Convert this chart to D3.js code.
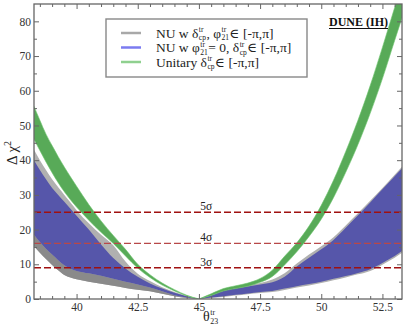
<!DOCTYPE html>
<html>
<head>
<meta charset="utf-8">
<script src="https://cdn.jsdelivr.net/npm/d3@7"></script>
<style>
  body { margin: 0; background: #fff; }
  svg, svg text { font-family: "Liberation Serif", "Times New Roman", Times, "DejaVu Serif", serif; }
</style>
</head>
<body>
<div id="chart"></div>
<script>
//~~~~~~~~~~~~~~~~~~~~~~~~~~~~~~~~~~~~
// Data
//~~~~~~~~~~~~~~~~~~~~~~~~~~~~~~~~~~~~
const thetaGrid = [38.26, 38.5, 38.75, 39, 39.25, 39.5, 39.75, 40, 40.5, 41, 41.5, 42, 42.5, 43, 43.5, 44, 44.5,
    45, 45.5, 46, 46.5, 47, 47.5, 48, 48.5, 49, 49.5, 50, 50.5, 51, 51.5, 52, 52.5, 53, 53.3];

// NU w delta, phi free
const grayLow  = [15.2, 13.3, 11.5, 9.8, 8.3, 6.9, 6.2, 5.7, 5.0, 4.4, 3.8, 3.2, 2.7, 2.2, 1.5, 0.8, 0.3,
    0, 0.3, 0.6, 1.0, 1.4, 1.7, 2.0, 2.6, 3.3, 3.9, 4.6, 5.4, 6.2, 7.1, 8.1, 9.9, 11.9, 13.3];
const grayHigh = [43, 40, 37.2, 34.5, 32.2, 30.0, 27.8, 25.6, 21.8, 18.5, 15.5, 10.8, 7.3, 5.2, 3.4, 2.0, 0.9,
    0, 1.1, 2.5, 3.2, 3.9, 4.6, 5.6, 7.4, 10.2, 12.8, 15.2, 17.8, 21.2, 24.7, 28.3, 32.0, 35.8, 38.1];

// NU w phi = 0
const blueLow  = [18.5, 16.4, 14.5, 12.8, 11.2, 9.7, 8.7, 8.1, 7.4, 6.7, 5.8, 5.0, 4.2, 3.3, 2.2, 1.1, 0.4,
    0, 0.4, 0.8, 1.2, 1.6, 2.0, 2.3, 3.0, 3.7, 4.3, 5.0, 5.8, 6.6, 7.5, 8.6, 10.4, 12.4, 13.8];
const blueHigh = [40, 37.2, 34.5, 32.0, 30.0, 28.0, 26.0, 24.0, 20.0, 15.7, 11.8, 8.8, 6.4, 4.5, 3.0, 1.8, 0.8,
    0, 1.0, 2.3, 3.0, 3.6, 4.2, 4.8, 6.4, 9.4, 11.9, 14.3, 17.0, 20.5, 24.1, 27.8, 31.6, 35.4, 37.7];

// Unitary
const greenLow  = [46, 42.8, 39.5, 36.4, 33.5, 30.9, 28.6, 26.5, 22.7, 19.2, 16.0, 12.4, 8.9, 6.2, 4.0, 2.3, 0.9,
    0, 1.0, 2.3, 3.0, 3.7, 4.8, 6.5, 9.8, 13.6, 18.0, 23.0, 29.2, 36.5, 44.5, 53.5, 63.5, 74.5, 81];
const greenHigh = [55.5, 51.5, 47.5, 44.2, 41, 38, 35.2, 32.5, 27.2, 22.5, 18.3, 14.3, 10.0, 7.0, 4.6, 2.7, 1.1,
    0, 1.5, 3.0, 3.8, 4.6, 5.9, 8.3, 12.3, 16.2, 21.0, 27.0, 34.2, 42.5, 51.5, 61.5, 72.5, 84, 91];

const sigmaLevels = [9, 16, 25];
const sigmaLabels = ["3σ", "4σ", "5σ"];

const xTicks = [40, 42.5, 45, 47.5, 50, 52.5];
const yTicks = [0, 10, 20, 30, 40, 50, 60, 70, 80];

const serif = "'Liberation Serif', 'Times New Roman', Times, 'DejaVu Serif', serif";

//~~~~~~~~~~~~~~~~~~~~~~~~~~~~~~~~~~~~
// Rich text helper (stacked sup/sub)
//~~~~~~~~~~~~~~~~~~~~~~~~~~~~~~~~~~~~
function richText(g, x0, y0, parts, size) {
    let cx = x0;
    parts.forEach(p => {
        if (p.t !== undefined) {
            const t = g.append("text").attr("x", cx).attr("y", y0)
                .attr("font-family", serif)
                .attr("font-size", size).text(p.t);
            cx += t.node().getComputedTextLength();
        } else {
            const s = size * 0.56;
            let w = 0;
            if (p.sup) {
                const a = g.append("text").attr("x", cx + 0.5).attr("y", y0 - size * 0.4)
                    .attr("font-family", serif)
                    .attr("font-size", s).text(p.sup);
                w = Math.max(w, a.node().getComputedTextLength());
            }
            if (p.sub) {
                const b = g.append("text").attr("x", cx + 0.5).attr("y", y0 + size * 0.2)
                    .attr("font-family", serif)
                    .attr("font-size", s).text(p.sub);
                w = Math.max(w, b.node().getComputedTextLength());
            }
            cx += w + 1;
        }
    });
    return cx;
}

//~~~~~~~~~~~~~~~~~~~~~~~~~~~~~~~~~~~~
// Chart
//~~~~~~~~~~~~~~~~~~~~~~~~~~~~~~~~~~~~
function createChart() {
    const width = 407, height = 325;
    const margin = {left: 34, right: 5, top: 4, bottom: 26};
    const frameColor = "#666";

    const svg = d3.select("#chart").append("svg")
        .attr("width", width)
        .attr("height", height)
        .attr("font-family", serif);

    const x = d3.scaleLinear().domain([38.26, 53.3]).range([margin.left, width - margin.right]);
    const y = d3.scaleLinear().domain([0, 85]).range([height - margin.bottom, margin.top]);

    svg.append("clipPath").attr("id", "plot-clip")
        .append("rect")
        .attr("x", x.range()[0]).attr("y", y.range()[1])
        .attr("width", x.range()[1] - x.range()[0])
        .attr("height", y.range()[0] - y.range()[1]);

    const idx = d3.range(thetaGrid.length);
    const leftIdx = idx.filter(i => thetaGrid[i] <= 45);
    const rightIdx = idx.filter(i => thetaGrid[i] >= 45);

    function band(low, high) {
        return d3.area()
            .x(i => x(thetaGrid[i]))
            .y0(i => y(low[i]))
            .y1(i => y(high[i]))
            .curve(d3.curveMonotoneX);
    }

    const plot = svg.append("g").attr("clip-path", "url(#plot-clip)");

    function drawBand(low, high, fill, sides, stroke) {
        sides.forEach(s => {
            plot.append("path")
                .datum(s)
                .attr("d", band(low, high))
                .attr("fill", fill)
                .attr("stroke", stroke || "none")
                .attr("stroke-width", 0.6);
        });
    }

    // gray band: light, with darker part under the blue band on the left
    drawBand(grayLow, grayHigh, "#b0b0b0", [leftIdx, rightIdx]);
    drawBand(grayLow, blueLow, "#8a8a8a", [leftIdx]);
    drawBand(blueLow, blueHigh, "#5656aa", [leftIdx, rightIdx]);
    drawBand(greenLow, greenHigh, "#58aa58", [leftIdx, rightIdx], "#6cc46c");

    // sigma lines
    sigmaLevels.forEach((lv, i) => {
        svg.append("line")
            .attr("x1", x.range()[0]).attr("x2", x.range()[1])
            .attr("y1", y(lv)).attr("y2", y(lv))
            .attr("stroke", i === 1 ? "#b84848" : "#a01010")
            .attr("stroke-width", 1.3)
            .attr("stroke-dasharray", "7,3");
        svg.append("text")
            .attr("x", x(45.3)).attr("y", y(lv) - 2)
            .attr("text-anchor", "middle")
            .attr("font-family", serif)
            .attr("font-size", 11.5)
            .attr("fill", "#222")
            .text(sigmaLabels[i]);
    });

    // axes (ticks inside, on all four sides)
    const xMinor = d3.range(38.5, 53.3, 0.5).filter(v => !xTicks.includes(v));
    const yMinor = d3.range(5, 85, 5).filter(v => !yTicks.includes(v));
    const bottomY = y.range()[0], topY = y.range()[1];
    const leftX = x.range()[0], rightX = x.range()[1];

    function axisGroup(axis, tx, ty) {
        const g = svg.append("g").attr("transform", `translate(${tx},${ty})`).call(axis);
        g.attr("font-family", serif).attr("font-size", 11.5);
        g.select(".domain").remove();
        g.selectAll("line").attr("stroke", frameColor);
        g.selectAll("text").attr("fill", "#333");
        return g;
    }

    axisGroup(d3.axisBottom(x).tickValues(xTicks).tickSize(-5).tickPadding(4).tickFormat(d => String(d)), 0, bottomY);
    axisGroup(d3.axisBottom(x).tickValues(xMinor).tickSize(-3).tickFormat(""), 0, bottomY);
    axisGroup(d3.axisTop(x).tickValues(xTicks).tickSize(-5).tickFormat(""), 0, topY);
    axisGroup(d3.axisTop(x).tickValues(xMinor).tickSize(-3).tickFormat(""), 0, topY);
    axisGroup(d3.axisLeft(y).tickValues(yTicks).tickSize(-5).tickPadding(3), leftX, 0);
    axisGroup(d3.axisLeft(y).tickValues(yMinor).tickSize(-3).tickFormat(""), leftX, 0);
    axisGroup(d3.axisRight(y).tickValues(yTicks).tickSize(-5).tickFormat(""), rightX, 0);
    axisGroup(d3.axisRight(y).tickValues(yMinor).tickSize(-3).tickFormat(""), rightX, 0);

    svg.append("rect")
        .attr("x", leftX).attr("y", topY)
        .attr("width", rightX - leftX).attr("height", bottomY - topY)
        .attr("fill", "none")
        .attr("stroke", frameColor)
        .attr("stroke-width", 1.3);

    // axis titles
    const yLab = svg.append("text")
        .attr("transform", `translate(17,153) rotate(-90)`)
        .attr("text-anchor", "middle")
        .attr("font-family", serif)
        .attr("font-size", 15)
        .attr("fill", "#222");
    yLab.append("tspan").text("Δ χ");
    yLab.append("tspan").attr("dy", -6).attr("font-size", 10).text("2");

    const xLabG = svg.append("g").attr("fill", "#222");
    richText(xLabG, 203, 321, [{t: "θ"}, {sup: "tr", sub: "23"}], 14);

    // DUNE (IH)
    const dune = svg.append("text")
        .attr("x", 388).attr("y", 26)
        .attr("text-anchor", "end")
        .attr("font-family", serif)
        .attr("font-size", 12)
        .attr("font-weight", "bold")
        .attr("fill", "#111")
        .text("DUNE (IH)");
    const bb = dune.node().getBBox();
    svg.append("line")
        .attr("x1", bb.x).attr("x2", bb.x + bb.width)
        .attr("y1", 28.5).attr("y2", 28.5)
        .attr("stroke", "#111").attr("stroke-width", 1);

    // legend
    const legend = svg.append("g");
    legend.append("rect")
        .attr("x", 106).attr("y", 19).attr("width", 201).attr("height", 58)
        .attr("fill", "#fff").attr("stroke", "#888").attr("stroke-width", 1.4);

    const legendRows = [
        {color: "#a8a8a8", parts: [{t: "NU w δ"}, {sup: "tr", sub: "cp"}, {t: ", φ"}, {sup: "tr", sub: "21"}, {t: "∈ [-π,π]"}]},
        {color: "#7b7bf0", parts: [{t: "NU w φ"}, {sup: "tr", sub: "21"}, {t: " = 0, δ"}, {sup: "tr", sub: "cp"}, {t: " ∈ [-π,π]"}]},
        {color: "#8fd08f", parts: [{t: "Unitary δ"}, {sup: "tr", sub: "cp"}, {t: " ∈ [-π,π]"}]}
    ];
    legendRows.forEach((r, i) => {
        const ly = 33 + i * 14.5;
        legend.append("line")
            .attr("x1", 121).attr("x2", 141).attr("y1", ly).attr("y2", ly)
            .attr("stroke", r.color).attr("stroke-width", 2.5);
        const tg = legend.append("g").attr("fill", "#222");
        richText(tg, 156, ly + 4.5, r.parts, 13.5);
    });
}

document.addEventListener('DOMContentLoaded', () => {
    createChart();
});
</script>
</body>
</html>
